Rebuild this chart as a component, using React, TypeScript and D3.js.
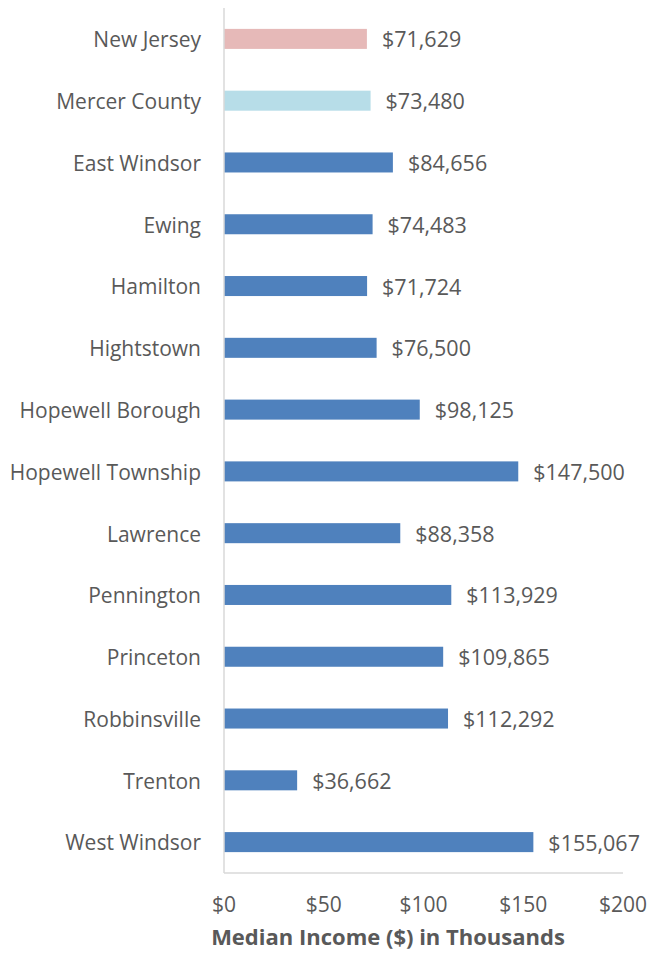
import React from "react";
import * as d3 from "d3";

const categories = ["New Jersey","Mercer County","East Windsor","Ewing","Hamilton","Hightstown","Hopewell Borough","Hopewell Township","Lawrence","Pennington","Princeton","Robbinsville","Trenton","West Windsor"];
const values = [71629,73480,84656,74483,71724,76500,98125,147500,88358,113929,109865,112292,36662,155067];
const colors = ["#e6b9b8","#b7dde8","#4f81bd","#4f81bd","#4f81bd","#4f81bd","#4f81bd","#4f81bd","#4f81bd","#4f81bd","#4f81bd","#4f81bd","#4f81bd","#4f81bd"];
const ticks = [0,50,100,150,200];
const axisTitle = "Median Income ($) in Thousands";

const W = 649, H = 953;
const font = "'Open Sans', sans-serif";
const textColor = "#595959";

export default function App() {
  const x = d3.scaleLinear().domain([0, 200]).range([224, 623]);
  const y = d3.scaleBand().domain(categories).range([8, 873]).paddingInner(0.676).paddingOuter(0.338);
  const fmt = d3.format(",");
  return (
    <svg width={W} height={H} style={{ position: "absolute", left: 0, top: 0 }} fontFamily={font}>
      {categories.map((c, i) => {
        const yc = (y(c) as number) + y.bandwidth() / 2 + 1;
        const v = values[i] / 1000;
        return (
          <g key={c}>
            <rect x={x(0)} y={y(c)} width={x(v) - x(0)} height={y.bandwidth()} fill={colors[i]} />
            <text x={201} y={yc} dy="0.35em" textAnchor="end" fontSize={21} fill={textColor}>{c}</text>
            <text x={x(v) + 15} y={yc} dy="0.35em" textAnchor="start" fontSize={21.5} fill={textColor}>{"$" + fmt(values[i])}</text>
          </g>
        );
      })}
      <line x1={x(0)} x2={x(0)} y1={8} y2={873} stroke="#d9d9d9" strokeWidth={1.5} />
      <line x1={x(0)} x2={x(200)} y1={873} y2={873} stroke="#d9d9d9" strokeWidth={1.5} />
      {ticks.map(t => (
        <text key={t} x={x(t)} y={905} dy="0.35em" textAnchor="middle" fontSize={21} fill={textColor}>{"$" + t}</text>
      ))}
      <text x={388} y={937} dy="0.35em" textAnchor="middle" fontSize={22} fontWeight="bold" fill={textColor}>{axisTitle}</text>
    </svg>
  );
}
